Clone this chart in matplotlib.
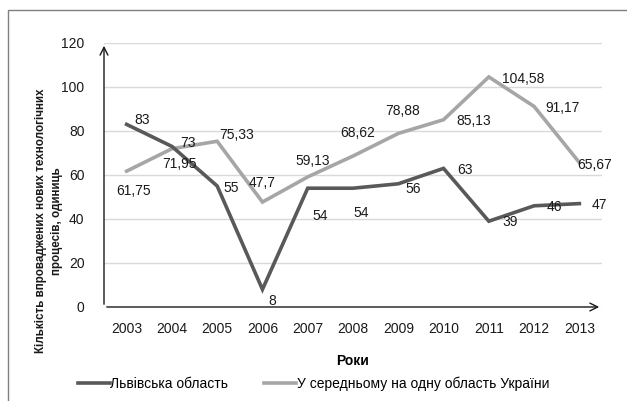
import matplotlib.pyplot as plt
import matplotlib.patches as patches
import numpy as np

plt.rcParams['font.family'] = ['Liberation Sans', 'DejaVu Sans']

years = ['2003', '2004', '2005', '2006', '2007', '2008', '2009', '2010', '2011', '2012', '2013']
lviv = [83, 73, 55, 8, 54, 54, 56, 63, 39, 46, 47]
ukraine = [61.75, 71.95, 75.33, 47.7, 59.13, 68.62, 78.88, 85.13, 104.58, 91.17, 65.67]
lviv_name = 'Львівська область'
ukraine_name = 'У середньому на одну область України'

# label offsets in pixels (dx, dy), dy positive = up
lviv_off = [(15, 4), (16, 3), (14, -2), (10, -12), (12, -28), (8, -25), (15, -5), (21, -2), (21, -1), (20, -1), (20, -1)]
ukr_off = [(7, -20), (8, -15), (19, 6), (0, 19), (5, 16), (5, 23), (4, 22), (30, -1), (34, -2), (28, -2), (15, -2)]

fig = plt.figure(figsize=(6.27, 4.01), dpi=100)
ax = fig.add_axes([104 / 627, 1 - 307 / 401, 498 / 627, 264 / 401])

x = np.arange(len(years))
c_dark = '#595959'
c_light = '#a6a6a6'
ax.plot(x, ukraine, color=c_light, lw=2.6, label=ukraine_name, solid_joinstyle='miter', zorder=3)
ax.plot(x, lviv, color=c_dark, lw=2.6, label=lviv_name, solid_joinstyle='miter', zorder=4)

fs = 10
for xi, v, (dx, dy) in zip(x, lviv, lviv_off):
    ax.annotate(f'{v:g}'.replace('.', ','), (xi, v), xytext=(dx, dy), textcoords='offset pixels',
                ha='center', va='center', fontsize=fs, color='#1a1a1a', zorder=5)
for xi, v, (dx, dy) in zip(x, ukraine, ukr_off):
    ax.annotate(f'{v:g}'.replace('.', ','), (xi, v), xytext=(dx, dy), textcoords='offset pixels',
                ha='center', va='center', fontsize=fs, color='#1a1a1a', zorder=5)

ax.set_xlim(-0.5, len(years) - 0.5)
ax.set_ylim(0, 120)
ax.set_yticks(range(0, 121, 20))
ax.set_xticks(x)
ax.set_xticklabels(years)
ax.tick_params(length=0, labelsize=fs, colors='#1a1a1a')
ax.tick_params(axis='x', pad=11)
ax.tick_params(axis='y', pad=14)
ax.grid(axis='y', color='#d9d9d9', lw=1)
ax.set_axisbelow(True)
for s in ax.spines.values():
    s.set_visible(False)

# arrow axes
ax.annotate('', xy=(0, 1.0), xytext=(0, 0), xycoords='axes fraction',
            arrowprops=dict(arrowstyle='->', color='#1a1a1a', lw=1, mutation_scale=14))
ax.annotate('', xy=(1.0, 0), xytext=(0, 0), xycoords='axes fraction',
            arrowprops=dict(arrowstyle='->', color='#1a1a1a', lw=1, mutation_scale=14))

ax.set_xlabel('Роки', fontsize=fs, fontweight='bold', labelpad=13)
fig.text(49 / 627, 1 - 221 / 401, 'Кількість впроваджених нових технологічних\nпроцесів, одиниць',
         rotation=90, ha='center', va='center', multialignment='center', fontsize=8.4,
         fontweight='bold', linespacing=1.45, color='#1a1a1a')

h, l = ax.get_legend_handles_labels()
fig.legend(h[::-1], l[::-1], loc='center', bbox_to_anchor=(0.50, 1 - 384 / 401), ncol=2,
           frameon=False, fontsize=fs, handlelength=2.3, handletextpad=0.05, columnspacing=2.6)

fig.patches.append(patches.Rectangle((8 / 627, -0.1), 1.2, 1 - 10 / 401 + 0.1, transform=fig.transFigure,
                                     fill=False, edgecolor='#7f7f7f', lw=1))

fig.savefig('out.png', dpi=100)
